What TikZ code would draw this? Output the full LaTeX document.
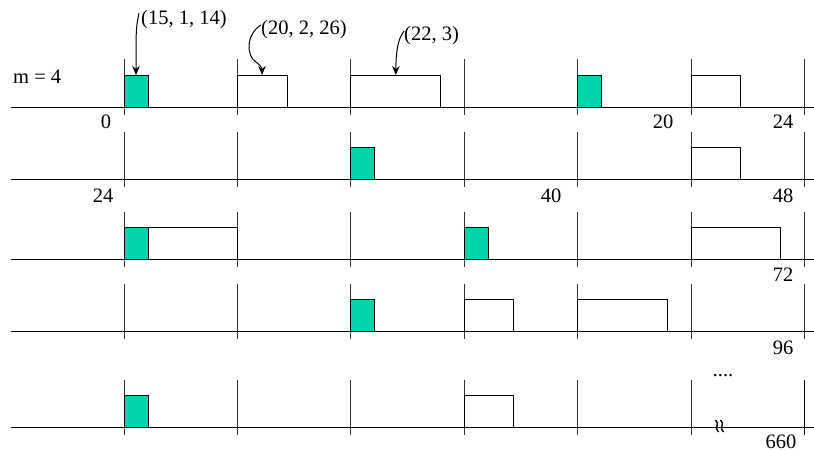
\documentclass[tikz,border=0pt]{standalone}
\usepackage{fontspec}
\setmainfont{Liberation Serif}
\usetikzlibrary{arrows.meta}
\definecolor{slotgreen}{RGB}{0,210,170}
\begin{document}
\begin{tikzpicture}[x=1pt,y=-1pt,
  base/.style={line width=0.9pt},
  tick/.style={line width=0.9pt, black!80},
  job/.style={draw, line width=0.8pt, inner sep=0pt, outer sep=0pt,
              minimum height=32pt, anchor=south west},
  busy/.style={job, fill=slotgreen, minimum width=24pt},
  free/.style={job, fill=white},
  lbl/.style={font=\fontsize{20.5}{24}\selectfont, inner sep=0pt},
  pointer/.style={line width=1pt, -{Stealth[length=9pt,width=7.5pt]}}
]
\useasboundingbox (0,0) rectangle (814,452);

% time axes, one per row, with slot boundaries every 113.4pt
\foreach \y in {107,179.5,259.5,331,427.5} {
  \draw[base] (11,\y) -- (814,\y);
  \foreach \k in {0,...,6}
    \draw[tick] ({124+113.4*\k},\y-47.5) -- ({124+113.4*\k},\y+7.5);
}
\draw[line width=1.8pt] (804.4,380) -- (804.4,435);

% row 1
\node[busy] (b1a) at (124,107) {};
\node[free, minimum width=49.5pt] (b1b) at (237.4,107) {};
\node[free, minimum width=90pt] (b1c) at (350.8,107) {};
\node[busy] (b1d) at (577.6,107) {};
\node[free, minimum width=49pt] (b1e) at (691,107) {};
% row 2
\node[busy] (b2a) at (350.8,179.5) {};
\node[free, minimum width=49pt] (b2b) at (691,179.5) {};
% row 3
\node[free, minimum width=113.4pt] (b3a) at (124,259.5) {};
\node[busy] (b3b) at (124,259.5) {};
\node[busy] (b3c) at (464.2,259.5) {};
\node[free, minimum width=89pt] (b3d) at (691,259.5) {};
% row 4
\node[busy] (b4a) at (350.8,331) {};
\node[free, minimum width=49.5pt] (b4b) at (464.2,331) {};
\node[free, minimum width=90pt] (b4c) at (577.6,331) {};
% row 5
\node[busy] (b5a) at (124,427.5) {};
\node[free, minimum width=49.5pt] (b5b) at (464.2,427.5) {};

% labels
\node[lbl, anchor=west] (m) at (13,77) {m = 4};
\node[lbl] (n0) at (106,122) {0};
\node[lbl] (n20) at (663,122) {20};
\node[lbl] (n24a) at (783,122) {24};
\node[lbl] (n24b) at (103,196) {24};
\node[lbl] (n40) at (551,196) {40};
\node[lbl] (n48) at (783,196) {48};
\node[lbl] (n72) at (783,275) {72};
\node[lbl] (n96) at (783,348) {96};
\node[lbl] (n660) at (781,441.5) {660};
\node[lbl] (dots) at (723,376) {....};

% annotations
\node[lbl, anchor=west] (t1) at (141,20) {(15, 1, 14)};
\node[lbl, anchor=west] (t2) at (261,30) {(20, 2, 26)};
\node[lbl, anchor=west] (t3) at (404,36) {(22, 3)};
\coordinate (a1) at (139,13);
\coordinate (a2) at (261,25);
\coordinate (a3) at (404,31);
\draw[pointer] (a1) .. controls (136,28) .. (b1a.north);
\draw[pointer] (a2) .. controls (246,34) and (246,56) .. (256,62)
                    .. controls (260,65) and (262,68) .. (b1b.north);
\draw[pointer] (a3) .. controls (397,40) and (396,55) .. (b1c.north);

% axis break mark
\foreach \x in {717,722}
  \draw[line width=1.4pt] (\x-1.5,420) .. controls (\x+3.5,423.5) and (\x-3.5,428.5) .. (\x+1.5,432);
\end{tikzpicture}
\end{document}
